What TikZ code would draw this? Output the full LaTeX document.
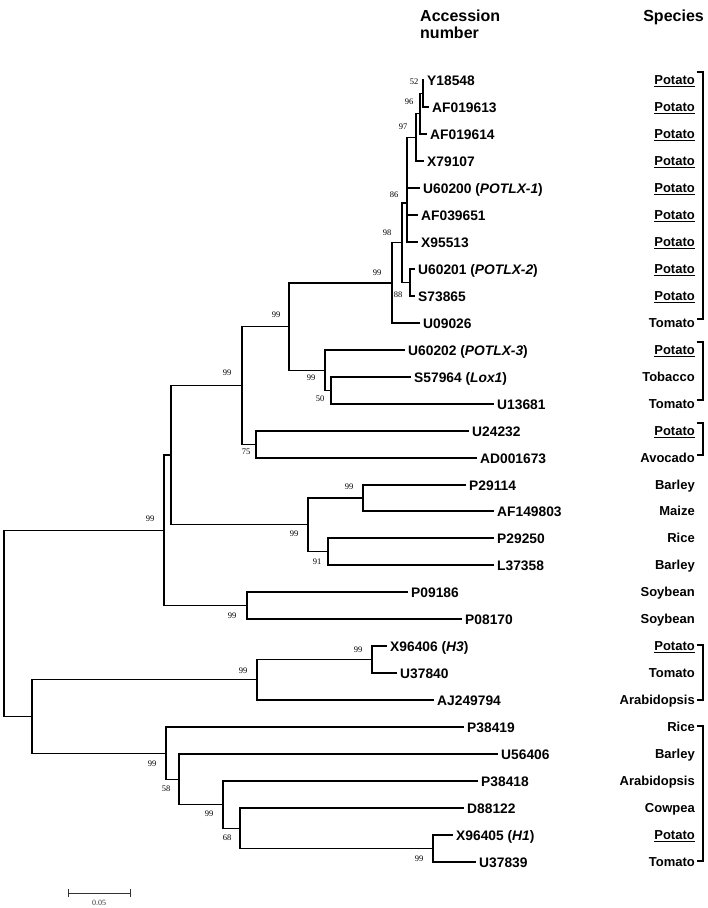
\documentclass[tikz,border=0pt]{standalone}
\usepackage{fontspec}
\setmainfont{Liberation Serif}
\setsansfont{Liberation Sans}
\newcommand{\ulp}[1]{\setbox0=\hbox{#1}\rlap{\raisebox{-2.4pt}{\rule{\wd0}{1.2pt}}}\box0}
\begin{document}
\begin{tikzpicture}[x=1pt,y=-1pt,
  tree/.style={line width=1.25pt},
  leaf/.style={anchor=west,inner xsep=3pt,inner ysep=0pt,text height=10pt,text depth=0pt,
    font=\sffamily\bfseries\fontsize{13.8}{16}\selectfont},
  spc/.style={anchor=east,inner sep=0pt,text height=9.4pt,text depth=0pt,
    font=\sffamily\bfseries\fontsize{13}{15}\selectfont},
  bs/.style={inner sep=0pt,font=\fontsize{8.5}{10}\selectfont},
  head/.style={inner sep=0pt,font=\sffamily\bfseries\fontsize{16}{18}\selectfont},
  brk/.style={line width=1.2pt}]
\useasboundingbox (0,0) rectangle (708,908);

% headers
\node[head,anchor=base west] (acc1) at (420,21) {Accession};
\node[head,anchor=base west] (acc2) at (420,38) {number};
\node[head,anchor=base east] (spec) at (704,21) {Species};

% leaves
\node[leaf] (Y18548)   at (424,80)  {Y18548};
\node[leaf] (AF019613) at (429,107) {AF019613};
\node[leaf] (AF019614) at (427,134) {AF019614};
\node[leaf] (X79107)   at (424,161) {X79107};
\node[leaf] (U60200)   at (420,188) {U60200 (\textit{POTLX-1})};
\node[leaf] (AF039651) at (418,215) {AF039651};
\node[leaf] (X95513)   at (418,242) {X95513};
\node[leaf] (U60201)   at (415,269) {U60201 (\textit{POTLX-2})};
\node[leaf] (S73865)   at (415,296) {S73865};
\node[leaf] (U09026)   at (420,323) {U09026};
\node[leaf] (U60202)   at (405,350) {U60202 (\textit{POTLX-3})};
\node[leaf] (S57964)   at (411,377) {S57964 (\textit{Lox1})};
\node[leaf] (U13681)   at (494,404) {U13681};
\node[leaf] (U24232)   at (469,431) {U24232};
\node[leaf] (AD001673) at (477,458) {AD001673};
\node[leaf] (P29114)   at (466,485) {P29114};
\node[leaf] (AF149803) at (494,511) {AF149803};
\node[leaf] (P29250)   at (494,538) {P29250};
\node[leaf] (L37358)   at (494,565) {L37358};
\node[leaf] (P09186)   at (408,592) {P09186};
\node[leaf] (P08170)   at (462,619) {P08170};
\node[leaf] (X96406)   at (387,646) {X96406 (\textit{H3})};
\node[leaf] (U37840)   at (397,673) {U37840};
\node[leaf] (AJ249794) at (434,700) {AJ249794};
\node[leaf] (P38419)   at (464,727) {P38419};
\node[leaf] (U56406)   at (498,754) {U56406};
\node[leaf] (P38418)   at (478,781) {P38418};
\node[leaf] (D88122)   at (464,808) {D88122};
\node[leaf] (X96405)   at (453,835) {X96405 (\textit{H1})};
\node[leaf] (U37839)   at (476,862) {U37839};

% internal nodes
\coordinate (a1) at (423,93.5);
\coordinate (a2) at (420,113.75);
\coordinate (a3) at (416,137.4);
\coordinate (a4) at (407,203);
\coordinate (a6) at (410,282.5);
\coordinate (a5) at (402,242.75);
\coordinate (a7) at (392,282.9);
\coordinate (b2) at (331,390.5);
\coordinate (b1) at (325,370.25);
\coordinate (n289) at (289,326.6);
\coordinate (c1) at (256,444.5);
\coordinate (n242) at (242,385.5);
\coordinate (d2) at (363,498);
\coordinate (d3) at (328,551.5);
\coordinate (d1) at (308,524.75);
\coordinate (n171) at (171,455.1);
\coordinate (e1) at (247,605.5);
\coordinate (n164) at (164,530.3);
\coordinate (h2) at (372,659.5);
\coordinate (h1) at (257,679.75);
\coordinate (r5) at (433,848.5);
\coordinate (r4) at (240,828.25);
\coordinate (r3) at (223,804.6);
\coordinate (r2) at (179,779.3);
\coordinate (r1) at (166,753.15);
\coordinate (low) at (32,716.45);
\coordinate (root) at (4,623.4);

% branches
\draw[tree] (a1) |- (Y18548.west);
\draw[tree] (a1) |- (AF019613.west);
\draw[tree] (a2) |- (a1);
\draw[tree] (a2) |- (AF019614.west);
\draw[tree] (a3) |- (a2);
\draw[tree] (a3) |- (X79107.west);
\draw[tree] (a4) |- (a3);
\draw[tree] (a4) |- (U60200.west);
\draw[tree] (a4) |- (AF039651.west);
\draw[tree] (a4) |- (X95513.west);
\draw[tree] (a6) |- (U60201.west);
\draw[tree] (a6) |- (S73865.west);
\draw[tree] (a5) |- (a4);
\draw[tree] (a5) |- (a6);
\draw[tree] (a7) |- (a5);
\draw[tree] (a7) |- (U09026.west);
\draw[tree] (b2) |- (S57964.west);
\draw[tree] (b2) |- (U13681.west);
\draw[tree] (b1) |- (U60202.west);
\draw[tree] (b1) |- (b2);
\draw[tree] (n289) |- (a7);
\draw[tree] (n289) |- (b1);
\draw[tree] (c1) |- (U24232.west);
\draw[tree] (c1) |- (AD001673.west);
\draw[tree] (n242) |- (n289);
\draw[tree] (n242) |- (c1);
\draw[tree] (d2) |- (P29114.west);
\draw[tree] (d2) |- (AF149803.west);
\draw[tree] (d3) |- (P29250.west);
\draw[tree] (d3) |- (L37358.west);
\draw[tree] (d1) |- (d2);
\draw[tree] (d1) |- (d3);
\draw[tree] (n171) |- (n242);
\draw[tree] (n171) |- (d1);
\draw[tree] (e1) |- (P09186.west);
\draw[tree] (e1) |- (P08170.west);
\draw[tree] (n164) |- (n171);
\draw[tree] (n164) |- (e1);
\draw[tree] (h2) |- (X96406.west);
\draw[tree] (h2) |- (U37840.west);
\draw[tree] (h1) |- (h2);
\draw[tree] (h1) |- (AJ249794.west);
\draw[tree] (r5) |- (X96405.west);
\draw[tree] (r5) |- (U37839.west);
\draw[tree] (r4) |- (D88122.west);
\draw[tree] (r4) |- (r5);
\draw[tree] (r3) |- (P38418.west);
\draw[tree] (r3) |- (r4);
\draw[tree] (r2) |- (U56406.west);
\draw[tree] (r2) |- (r3);
\draw[tree] (r1) |- (P38419.west);
\draw[tree] (r1) |- (r2);
\draw[tree] (low) |- (h1);
\draw[tree] (low) |- (r1);
\draw[tree] (root) |- (n164);
\draw[tree] (root) |- (low);

% bootstrap values
\node[bs] (bs1) at (414,82) {52};
\node[bs] (bs2) at (409,102) {96};
\node[bs] (bs3) at (403,127) {97};
\node[bs] (bs4) at (394,195) {86};
\node[bs] (bs5) at (387,233) {98};
\node[bs] (bs6) at (398,295) {88};
\node[bs] (bs7) at (377,273) {99};
\node[bs] (bs8) at (276,315) {99};
\node[bs] (bs9) at (311,378) {99};
\node[bs] (bs10) at (320,399) {50};
\node[bs] (bs11) at (227,373) {99};
\node[bs] (bs12) at (246,452) {75};
\node[bs] (bs13) at (349,487) {99};
\node[bs] (bs14) at (294,534) {99};
\node[bs] (bs15) at (317,562) {91};
\node[bs] (bs16) at (232,616) {99};
\node[bs] (bs17) at (150,519) {99};
\node[bs] (bs18) at (358,650) {99};
\node[bs] (bs19) at (243,671) {99};
\node[bs] (bs20) at (152,764) {99};
\node[bs] (bs21) at (166,789) {58};
\node[bs] (bs22) at (209,814) {99};
\node[bs] (bs23) at (227,838) {68};
\node[bs] (bs24) at (419,859) {99};

% species
\node[spc] (sp0)  at (695,80)  {\ulp{Potato}};
\node[spc] (sp1)  at (695,107) {\ulp{Potato}};
\node[spc] (sp2)  at (695,134) {\ulp{Potato}};
\node[spc] (sp3)  at (695,161) {\ulp{Potato}};
\node[spc] (sp4)  at (695,188) {\ulp{Potato}};
\node[spc] (sp5)  at (695,215) {\ulp{Potato}};
\node[spc] (sp6)  at (695,242) {\ulp{Potato}};
\node[spc] (sp7)  at (695,269) {\ulp{Potato}};
\node[spc] (sp8)  at (695,296) {\ulp{Potato}};
\node[spc] (sp9)  at (695,323) {Tomato};
\node[spc] (sp10) at (695,350) {\ulp{Potato}};
\node[spc] (sp11) at (695,377) {Tobacco};
\node[spc] (sp12) at (695,404) {Tomato};
\node[spc] (sp13) at (695,431) {\ulp{Potato}};
\node[spc] (sp14) at (695,458) {Avocado};
\node[spc] (sp15) at (695,485) {Barley};
\node[spc] (sp16) at (695,511) {Maize};
\node[spc] (sp17) at (695,538) {Rice};
\node[spc] (sp18) at (695,565) {Barley};
\node[spc] (sp19) at (695,592) {Soybean};
\node[spc] (sp20) at (695,619) {Soybean};
\node[spc] (sp21) at (695,646) {\ulp{Potato}};
\node[spc] (sp22) at (695,673) {Tomato};
\node[spc] (sp23) at (695,700) {Arabidopsis};
\node[spc] (sp24) at (695,727) {Rice};
\node[spc] (sp25) at (695,754) {Barley};
\node[spc] (sp26) at (695,781) {Arabidopsis};
\node[spc] (sp27) at (695,808) {Cowpea};
\node[spc] (sp28) at (695,835) {\ulp{Potato}};
\node[spc] (sp29) at (695,862) {Tomato};

% brackets
\draw[brk] ([xshift=1.5pt,yshift=8pt]sp0.east) -- ([xshift=8pt,yshift=8pt]sp0.east) -- ([xshift=8pt,yshift=4pt]sp9.east) -- ([xshift=1.5pt,yshift=4pt]sp9.east);
\draw[brk] ([xshift=1.5pt,yshift=8pt]sp10.east) -- ([xshift=8pt,yshift=8pt]sp10.east) -- ([xshift=8pt,yshift=4pt]sp12.east) -- ([xshift=1.5pt,yshift=4pt]sp12.east);
\draw[brk] ([xshift=1.5pt,yshift=8pt]sp13.east) -- ([xshift=8pt,yshift=8pt]sp13.east) -- ([xshift=8pt,yshift=3pt]sp14.east) -- ([xshift=1.5pt,yshift=3pt]sp14.east);
\draw[brk] ([xshift=1.5pt,yshift=1pt]sp21.east) -- ([xshift=8pt,yshift=1pt]sp21.east) -- ([xshift=8pt,yshift=0pt]sp23.east) -- ([xshift=1.5pt,yshift=0pt]sp23.east);
\draw[brk] ([xshift=1.5pt,yshift=1pt]sp24.east) -- ([xshift=8pt,yshift=1pt]sp24.east) -- ([xshift=8pt,yshift=1pt]sp29.east) -- ([xshift=1.5pt,yshift=1pt]sp29.east);

% scale bar
\coordinate (sb1) at (68,893);
\coordinate (sb2) at (130,893);
\draw[line width=0.8pt,black!80] (sb1) -- (sb2);
\draw[line width=0.8pt,black!80] ([yshift=-4pt]sb1) -- ([yshift=4pt]sb1);
\draw[line width=0.8pt,black!80] ([yshift=-4pt]sb2) -- ([yshift=4pt]sb2);
\node[bs,font=\fontsize{8}{9}\selectfont,black!80] (sbl) at (99,903) {0.05};
\end{tikzpicture}
\end{document}
